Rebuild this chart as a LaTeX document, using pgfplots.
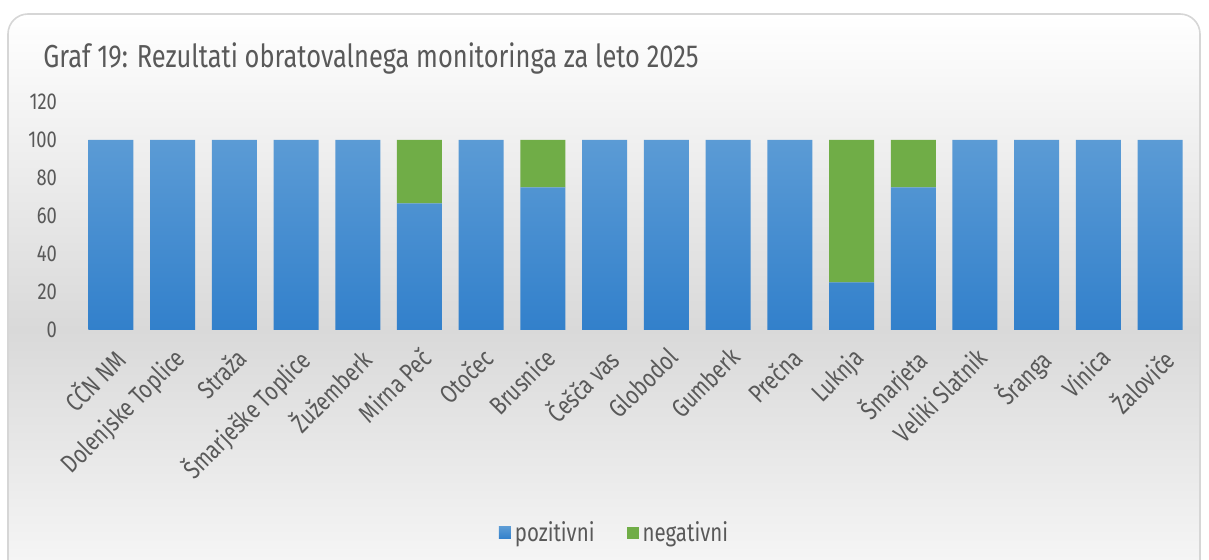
\documentclass[border=0pt]{standalone}
\usepackage{fontspec}
\setmainfont{Fira Sans}[FakeStretch=0.8]
\usepackage{pgfplots}
\pgfplotsset{compat=1.18}
\definecolor{txt}{HTML}{595959}
\definecolor{bgg}{HTML}{D9D9D9}
\definecolor{bordc}{HTML}{D6D6D6}
\definecolor{blueT}{HTML}{5B9BD5}
\definecolor{blueB}{HTML}{3280CB}
\definecolor{greenN}{HTML}{70AD47}

\begin{document}
\begin{tikzpicture}[x=1pt,y=1pt]
\useasboundingbox (0,0) rectangle (604.5,280);
% background panel
\begin{scope}
\clip[rounded corners=10pt] (4,-10) rectangle (600,273);
\shade[top color=white, bottom color=bgg] (0,115) rectangle (604.5,273);
\shade[top color=bgg, bottom color=white!97!black] (0,-10) rectangle (604.5,115.2);
\end{scope}
\draw[rounded corners=10pt, draw=bordc, line width=0.8pt] (4,-10) rectangle (600,273);

\node[anchor=base west, text=txt, font=\fontsize{15.9}{18}\selectfont, inner sep=0pt]
  at (21.5,246) {Graf 19: Rezultati obratovalnega monitoringa za leto 2025};

\begin{axis}[
    at={(40pt,115pt)}, anchor=south west,
    scale only axis,
    width=555.5pt, height=114pt,
    ybar stacked,
    bar width=22.5pt,
    xmin=-0.5, xmax=17.5,
    ymin=0, ymax=120,
    ytick={0,20,...,120},
    xtick={0,...,17},
    xticklabels={CČN NM, Dolenjske Toplice, Straža, Šmarješke Toplice, Žužemberk,
      Mirna Peč, Otočec, Brusnice, Češča vas, Globodol, Gumberk, Prečna, Luknja,
      Šmarjeta, Veliki Slatnik, Šranga, Vinica, Žaloviče},
    axis lines*=left,
    axis line style={draw=none},
    major tick length=0pt,
    tick style={draw=none},
    /pgf/number format/assume math mode=true,
    yticklabel style={text=txt, font=\fontsize{11.5}{13}\selectfont, xshift=-8pt},
    xticklabel style={text=txt, font=\fontsize{12.8}{14}\selectfont,
      xshift=0pt, yshift=-3pt, rotate=45, anchor=north east},
    legend columns=2,
    legend style={at={(0.482,-0.89)}, anchor=center, draw=none, fill=none,
      font=\fontsize{12.8}{14}\selectfont, text=txt,
      /tikz/every even column/.append style={column sep=14pt}},
    legend image code/.code={\path[#1, draw=none] (0pt,-3pt) rectangle (6pt,3pt);},
]
\addplot[top color=blueT, bottom color=blueB, draw=none] coordinates {
  (0,100) (1,100) (2,100) (3,100) (4,100) (5,66.7) (6,100) (7,75) (8,100)
  (9,100) (10,100) (11,100) (12,25) (13,75) (14,100) (15,100) (16,100) (17,100)
};
\addlegendentry{pozitivni}
\addplot[fill=greenN, draw=none] coordinates {
  (0,0) (1,0) (2,0) (3,0) (4,0) (5,33.3) (6,0) (7,25) (8,0)
  (9,0) (10,0) (11,0) (12,75) (13,25) (14,0) (15,0) (16,0) (17,0)
};
\addlegendentry{negativni}
\end{axis}
\end{tikzpicture}
\end{document}
